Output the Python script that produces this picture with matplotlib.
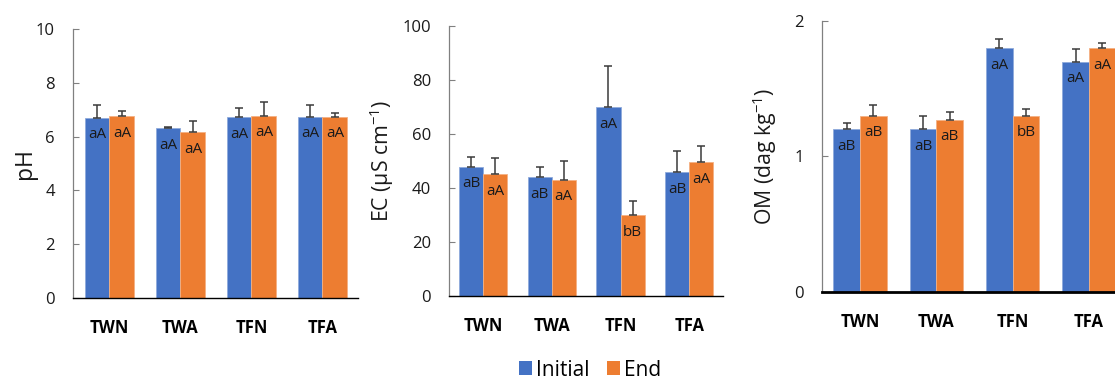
import matplotlib
matplotlib.use("Agg")
import matplotlib.pyplot as plt
import numpy as np
from matplotlib.patches import Patch

plt.rcParams['font.family'] = ['Open Sans', 'DejaVu Sans']
plt.rcParams['mathtext.default'] = 'regular'

categories = ["TWN", "TWA", "TFN", "TFA"]

ph_initial = [6.70, 6.31, 6.72, 6.74]
ph_initial_err = [0.46, 0.05, 0.35, 0.45]
ph_end = [6.75, 6.16, 6.77, 6.73]
ph_end_err = [0.21, 0.43, 0.53, 0.14]
ph_lab_initial = ["aA", "aA", "aA", "aA"]
ph_lab_end = ["aA", "aA", "aA", "aA"]

ec_initial = [47.8, 44.0, 69.9, 45.8]
ec_initial_err = [3.7, 3.9, 15.3, 8.0]
ec_end = [45.1, 43.0, 29.9, 49.6]
ec_end_err = [5.9, 7.1, 5.2, 5.8]
ec_lab_initial = ["aB", "aB", "aA", "aB"]
ec_lab_end = ["aA", "aA", "bB", "aA"]

om_initial = [1.20, 1.20, 1.80, 1.70]
om_initial_err = [0.05, 0.10, 0.07, 0.09]
om_end = [1.30, 1.27, 1.30, 1.80]
om_end_err = [0.08, 0.06, 0.05, 0.035]
om_lab_initial = ["aB", "aB", "aA", "aA"]
om_lab_end = ["aB", "aB", "bB", "aA"]

BLUE = "#4472C4"
ORANGE = "#ED7D31"
W, H = 1115, 380

fig = plt.figure(figsize=(W / 100, H / 100), dpi=100)

def add_axes(l, r, t, b):
    return fig.add_axes([l / W, 1 - b / H, (r - l) / W, (b - t) / H])

panels = [
    dict(box=(73, 358, 29, 298), xlim=(-0.514, 3.5), ylim=(0, 10), ticks=[0, 2, 4, 6, 8, 10],
         ini=ph_initial, ie=ph_initial_err, end=ph_end, ee=ph_end_err,
         li=ph_lab_initial, le=ph_lab_end, ylabel="pH", ylx=25, blw=1.0, ylfs=16.5),
    dict(box=(449, 723, 26, 296), xlim=(-0.494, 3.49), ylim=(0, 100), ticks=[0, 20, 40, 60, 80, 100],
         ini=ec_initial, ie=ec_initial_err, end=ec_end, ee=ec_end_err,
         li=ec_lab_initial, le=ec_lab_end, ylabel="EC (µS cm$^{-1}$)", ylx=382, blw=1.0, ylfs=15.3),
    dict(box=(822, 1127, 21, 291.7), xlim=(-0.5, 3.5), ylim=(0, 2), ticks=[0, 1, 2],
         ini=om_initial, ie=om_initial_err, end=om_end, ee=om_end_err,
         li=om_lab_initial, le=om_lab_end, ylabel="OM (dag kg$^{-1}$)", ylx=765, blw=2.0, ylfs=15.3),
]

bw = 0.35
x = np.arange(len(categories))
for p in panels:
    l, r, t, b = p["box"]
    ax = add_axes(l, r, t, b)
    ax.bar(x - bw / 2, p["ini"], bw, color=BLUE, edgecolor="#8FAADC", linewidth=0.6, zorder=2)
    ax.bar(x + bw / 2, p["end"], bw, color=ORANGE, edgecolor="#F4B183", linewidth=0.6, zorder=2)
    ax.errorbar(x - bw / 2, p["ini"], yerr=[np.zeros(4), p["ie"]], fmt="none",
                ecolor="#3a3a3a", elinewidth=1.1, capsize=3, capthick=1.1, zorder=3)
    ax.errorbar(x + bw / 2, p["end"], yerr=[np.zeros(4), p["ee"]], fmt="none",
                ecolor="#3a3a3a", elinewidth=1.1, capsize=3, capthick=1.1, zorder=3)
    for xi, v, s in zip(x - bw / 2, p["ini"], p["li"]):
        ax.annotate(s, (xi, v), xytext=(0, -12.2), textcoords="offset points",
                    ha="center", va="center", fontsize=11, color="#1a1a1a", zorder=4)
    for xi, v, s in zip(x + bw / 2, p["end"], p["le"]):
        ax.annotate(s, (xi, v), xytext=(0, -12.2), textcoords="offset points",
                    ha="center", va="center", fontsize=11, color="#1a1a1a", zorder=4)
    ax.set_xlim(*p["xlim"])
    ax.set_ylim(*p["ylim"])
    ax.set_yticks(p["ticks"])
    ax.set_yticklabels([str(v) for v in p["ticks"]], fontsize=12, color="#1a1a1a")
    ax.set_xticks(x)
    ax.set_xticklabels(categories, fontsize=12, fontweight="bold")
    ax.tick_params(axis="x", length=0, pad=15)
    ax.tick_params(axis="y", direction="in", length=4.5, width=0.8, color="#808080", pad=13)
    for s in ["top", "right"]:
        ax.spines[s].set_visible(False)
    ax.spines["left"].set_color("#808080")
    ax.spines["left"].set_linewidth(0.9)
    ax.spines["bottom"].set_color("black")
    ax.spines["bottom"].set_linewidth(p["blw"])
    fig.text(p["ylx"] / W, 1 - ((t + b) / 2) / H, p["ylabel"], rotation=90,
             ha="center", va="center", fontsize=p["ylfs"], color="#1a1a1a")

handles = [Patch(facecolor=BLUE, label="Initial"), Patch(facecolor=ORANGE, label="End")]
fig.legend(handles=handles, loc="center", bbox_to_anchor=(590 / W, 1 - 370 / H), ncol=2,
           frameon=False, fontsize=15, handlelength=0.65, handleheight=0.65,
           handletextpad=0.2, columnspacing=0.8, borderpad=0)

fig.savefig("out.png", dpi=100)
